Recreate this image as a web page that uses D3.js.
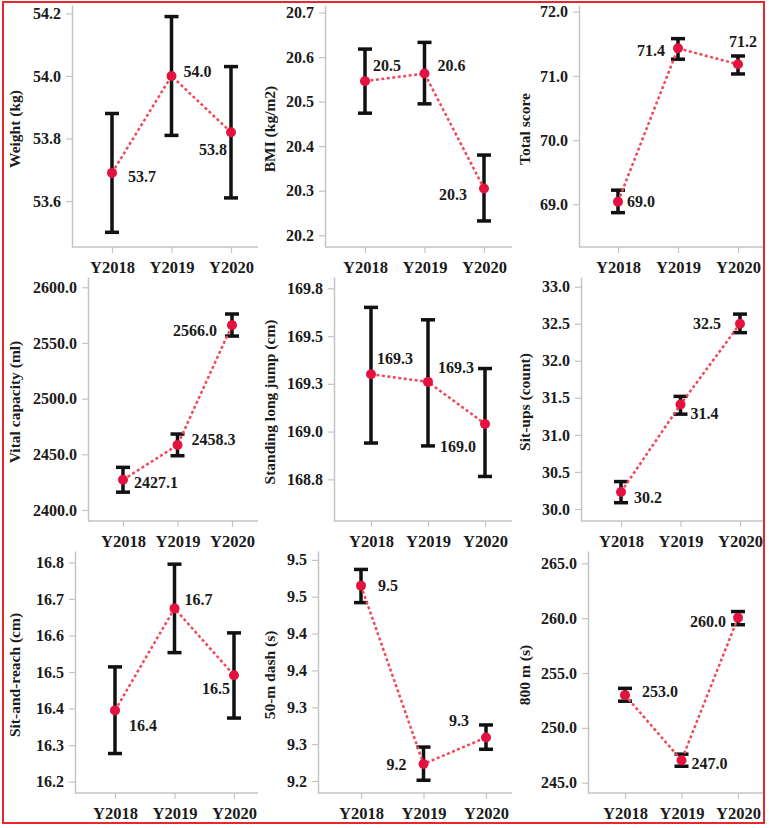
<!DOCTYPE html>
<html lang="en">
<head>
    <meta charset="UTF-8">
    <title>Physical fitness 2018-2020</title>
    <style>
        body, html {
            margin: 0;
            padding: 0;
            background-color: #ffffff;
        }
        svg text {
            font-family: "Liberation Serif", "Times New Roman", serif;
            font-weight: bold;
            fill: #1a1a1a;
        }
    </style>
</head>
<body>
    <div id="chart"></div>

    <script src="https://d3js.org/d3.v7.min.js"></script>
    <script>
        // Categories
        const years = ["Y2018", "Y2019", "Y2020"];

        // Weight
        const weightMean = [53.69, 54.00, 53.82];
        const weightLow = [53.50, 53.81, 53.61];
        const weightHigh = [53.88, 54.19, 54.03];
        const weightTicks = [53.6, 53.8, 54.0, 54.2];
        const weightTickLabels = ["53.6", "53.8", "54.0", "54.2"];

        // BMI
        const bmiMean = [20.546, 20.563, 20.305];
        const bmiLow = [20.474, 20.495, 20.232];
        const bmiHigh = [20.618, 20.633, 20.380];
        const bmiTicks = [20.2, 20.3, 20.4, 20.5, 20.6, 20.7];
        const bmiTickLabels = ["20.2", "20.3", "20.4", "20.5", "20.6", "20.7"];

        // Total score
        const totalMean = [69.04, 71.43, 71.18];
        const totalLow = [68.87, 71.26, 71.03];
        const totalHigh = [69.22, 71.58, 71.31];
        const totalTicks = [69, 70, 71, 72];
        const totalTickLabels = ["69.0", "70.0", "71.0", "72.0"];

        // Vital capacity
        const vitalMean = [2427.1, 2458.3, 2566.0];
        const vitalLow = [2416.0, 2448.7, 2556.2];
        const vitalHigh = [2438.3, 2468.2, 2576.0];
        const vitalTicks = [2400, 2450, 2500, 2550, 2600];
        const vitalTickLabels = ["2400.0", "2450.0", "2500.0", "2550.0", "2600.0"];

        // Standing long jump
        const jumpMean = [169.30, 169.26, 169.04];
        const jumpLow = [168.94, 168.925, 168.765];
        const jumpHigh = [169.65, 169.585, 169.33];
        const jumpTicks = [168.75, 169.0, 169.25, 169.5, 169.75];
        const jumpTickLabels = ["168.8", "169.0", "169.3", "169.5", "169.8"];

        // Sit-ups
        const situpMean = [30.23, 31.41, 32.50];
        const situpLow = [30.085, 31.28, 32.38];
        const situpHigh = [30.37, 31.52, 32.63];
        const situpTicks = [30.0, 30.5, 31.0, 31.5, 32.0, 32.5, 33.0];
        const situpTickLabels = ["30.0", "30.5", "31.0", "31.5", "32.0", "32.5", "33.0"];

        // Sit-and-reach
        const reachMean = [16.395, 16.674, 16.491];
        const reachLow = [16.277, 16.553, 16.374];
        const reachHigh = [16.514, 16.795, 16.607];
        const reachTicks = [16.2, 16.3, 16.4, 16.5, 16.6, 16.7, 16.8];
        const reachTickLabels = ["16.2", "16.3", "16.4", "16.5", "16.6", "16.7", "16.8"];

        // 50-m dash
        const dashMean = [9.465, 9.223, 9.259];
        const dashLow = [9.442, 9.201, 9.243];
        const dashHigh = [9.487, 9.246, 9.276];
        const dashTicks = [9.20, 9.25, 9.30, 9.35, 9.40, 9.45, 9.50];
        const dashTickLabels = ["9.2", "9.3", "9.3", "9.4", "9.4", "9.5", "9.5"];

        // 800 m
        const runMean = [252.98, 247.04, 260.03];
        const runLow = [252.43, 246.5, 259.4];
        const runHigh = [253.6, 247.6, 260.6];
        const runTicks = [245, 250, 255, 260, 265];
        const runTickLabels = ["245.0", "250.0", "255.0", "260.0", "265.0"];

        // Layout
        const width = 769, height = 828;
        const rowBox = [{ top: 5, bottom: 247 }, { top: 277, bottom: 521 }, { top: 551, bottom: 793 }];
        const colLeft = [0, 255, 510];
        const colRight = [258, 512, 765];

        const panels = [
            { title: "Weight (kg)", mean: weightMean, low: weightLow, high: weightHigh, ticks: weightTicks, tickLabels: weightTickLabels,
              domain: [53.453, 54.227], axisX: 72, xr: [112, 231], off: [[30, 4], [26, -4], [-18, 17]] },
            { title: "BMI (kg/m2)", mean: bmiMean, low: bmiLow, high: bmiHigh, ticks: bmiTicks, tickLabels: bmiTickLabels,
              domain: [20.1735, 20.717], axisX: 325, xr: [365, 484], off: [[22, -16], [27, -8], [-31, 6]] },
            { title: "Total score", mean: totalMean, low: totalLow, high: totalHigh, ticks: totalTicks, tickLabels: totalTickLabels,
              domain: [68.335, 72.104], axisX: 579, xr: [618, 738], off: [[23, 0], [-27, 2], [5, -23]] },
            { title: "Vital capacity (ml)", mean: vitalMean, low: vitalLow, high: vitalHigh, ticks: vitalTicks, tickLabels: vitalTickLabels,
              domain: [2390.1, 2609.25], axisX: 88, xr: [123, 232], off: [[33, 3], [36, -6], [-37, 5]] },
            { title: "Standing long jump (cm)", mean: jumpMean, low: jumpLow, high: jumpHigh, ticks: jumpTicks, tickLabels: jumpTickLabels,
              domain: [168.532, 169.809], axisX: 334, xr: [371, 485], off: [[24, -16], [28, -14], [-27, 23]] },
            { title: "Sit-ups (count)", mean: situpMean, low: situpLow, high: situpHigh, ticks: situpTicks, tickLabels: situpTickLabels,
              domain: [29.838, 33.131], axisX: 581, xr: [621, 740], off: [[27, 6], [24, 9], [-33, 0]] },
            { title: "Sit-and-reach (cm)", mean: reachMean, low: reachLow, high: reachHigh, ticks: reachTicks, tickLabels: reachTickLabels,
              domain: [16.169, 16.831], axisX: 75, xr: [115, 234], off: [[28, 15], [24, -9], [-18, 13]] },
            { title: "50-m dash (s)", mean: dashMean, low: dashLow, high: dashHigh, ticks: dashTicks, tickLabels: dashTickLabels,
              domain: [9.1837, 9.512], axisX: 318, xr: [361, 486], off: [[27, 0], [-27, 0], [-27, -17]] },
            { title: "800 m (s)", mean: runMean, low: runLow, high: runHigh, ticks: runTicks, tickLabels: runTickLabels,
              domain: [244.06, 266.12], axisX: 588, xr: [625, 738], off: [[35, -4], [28, 3], [-30, 4]] }
        ];

        const svg = d3.select("#chart").append("svg")
            .attr("width", width)
            .attr("height", height);

        panels.forEach((p, i) => {
            const row = Math.floor(i / 3), col = i % 3;
            const box = rowBox[row];
            const g = svg.append("g");

            const x = d3.scalePoint().domain(years).range(p.xr);
            const y = d3.scaleLinear().domain(p.domain).range([box.bottom, box.top]);

            // y axis
            const yAxis = g.append("g")
                .attr("transform", `translate(${p.axisX},0)`)
                .call(d3.axisLeft(y)
                    .tickValues(p.ticks)
                    .tickFormat((d, k) => p.tickLabels[k])
                    .tickSize(6)
                    .tickPadding(5)
                    .tickSizeOuter(0));
            yAxis.select(".domain").attr("stroke", "#c4c4c4").attr("stroke-width", 1.5);
            yAxis.selectAll(".tick line").attr("stroke", "#c4c4c4").attr("stroke-width", 1.2);
            yAxis.selectAll(".tick text")
                .attr("font-size", 16)
                .attr("font-family", null)
                .attr("fill", "#1a1a1a");

            // x axis
            g.append("line")
                .attr("x1", p.axisX).attr("x2", colRight[col])
                .attr("y1", box.bottom).attr("y2", box.bottom)
                .attr("stroke", "#c4c4c4").attr("stroke-width", 1.5);
            const xAxis = g.append("g")
                .attr("transform", `translate(0,${box.bottom})`)
                .call(d3.axisBottom(x).tickSize(6).tickPadding(8));
            xAxis.select(".domain").remove();
            xAxis.selectAll(".tick line").attr("stroke", "#c4c4c4").attr("stroke-width", 1.2);
            xAxis.selectAll(".tick text")
                .attr("font-size", 16.5)
                .attr("font-family", null)
                .attr("fill", "#1a1a1a");

            // y title
            g.append("text")
                .attr("transform", `translate(${colLeft[col] + 14},${(box.top + box.bottom) / 2 + 3}) rotate(-90)`)
                .attr("text-anchor", "middle")
                .attr("dominant-baseline", "central")
                .attr("font-size", 15.5)
                .text(p.title);

            const pts = years.map((yr, k) => ({ yr, m: p.mean[k], lo: p.low[k], hi: p.high[k], off: p.off[k] }));

            // error bars
            const eb = g.append("g").attr("stroke", "#111").attr("stroke-width", 3.5);
            eb.selectAll("line.v").data(pts).join("line")
                .attr("x1", d => x(d.yr)).attr("x2", d => x(d.yr))
                .attr("y1", d => y(d.lo)).attr("y2", d => y(d.hi));
            eb.selectAll("line.top").data(pts).join("line")
                .attr("x1", d => x(d.yr) - 7).attr("x2", d => x(d.yr) + 7)
                .attr("y1", d => y(d.hi)).attr("y2", d => y(d.hi));
            eb.selectAll("line.bot").data(pts).join("line")
                .attr("x1", d => x(d.yr) - 7).attr("x2", d => x(d.yr) + 7)
                .attr("y1", d => y(d.lo)).attr("y2", d => y(d.lo));

            // dotted mean line
            g.append("path")
                .datum(pts)
                .attr("fill", "none")
                .attr("stroke", "#ef4a5a")
                .attr("stroke-width", 2.5)
                .attr("stroke-dasharray", "3,2.5")
                .attr("d", d3.line().x(d => x(d.yr)).y(d => y(d.m)));

            // points
            g.selectAll("circle").data(pts).join("circle")
                .attr("cx", d => x(d.yr))
                .attr("cy", d => y(d.m))
                .attr("r", 5)
                .attr("fill", "#e3123f");

            // value labels
            g.selectAll("text.val").data(pts).join("text")
                .attr("class", "val")
                .attr("x", d => x(d.yr) + d.off[0])
                .attr("y", d => y(d.m) + d.off[1])
                .attr("text-anchor", "middle")
                .attr("dominant-baseline", "central")
                .attr("font-size", 16)
                .text(d => d.m.toFixed(1));
        });

        // red frame
        svg.append("rect")
            .attr("x", 3).attr("y", 2)
            .attr("width", 761).attr("height", 821)
            .attr("fill", "none")
            .attr("stroke", "#e8262b")
            .attr("stroke-width", 2);
    </script>
</body>
</html>
